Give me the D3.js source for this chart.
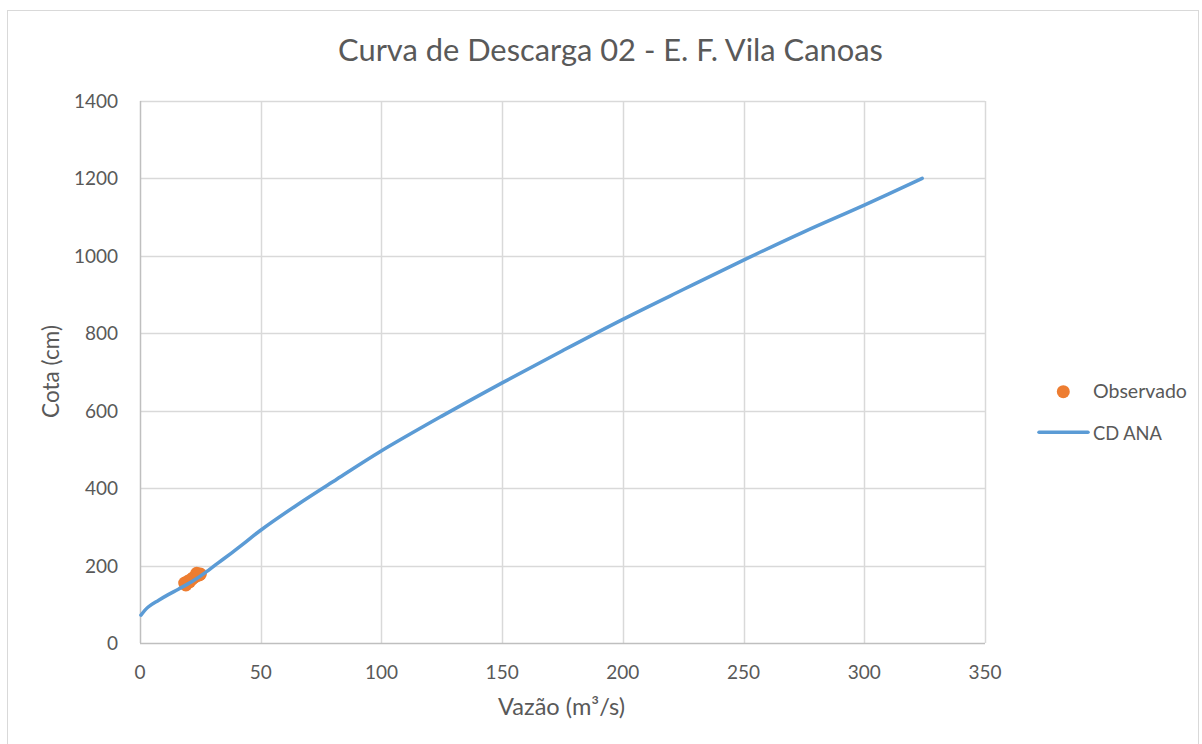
<!DOCTYPE html>
<html><head><meta charset="utf-8">
<script src="https://cdn.jsdelivr.net/npm/d3@7"></script>
<style>body{margin:0;background:#fff;}svg{display:block;font-family:Lato,"Open Sans",sans-serif;}</style>
</head><body>
<svg id="c" width="1202" height="744"></svg>
<script>
const title = "Curva de Descarga 02 - E. F. Vila Canoas";
const xLabel = "Vazão (m³/s)";
const yLabel = "Cota (cm)";
const xTicks = [0,50,100,150,200,250,300,350];
const yTicks = [0,200,400,600,800,1000,1200,1400];
// CD ANA curve (Q m3/s, H cm)
const curveQ = [0.4,3.4,7.6,11.7,15.9,21.4,26.9,32.4,38,42.8,49.7,64.9,81.5,99.4,125,150,175,200,225,250,275,300,324];
const curveH = [72,93,110,125,139,158,181,207,233,256,290,356,423,494,586,672,755,836,913,989,1062,1131,1200];
// Observed points
const obsQ = [18.5,19,20,20.5,21.5,22,23,24,25,23.5,24.5];
const obsH = [155,150,160,158,165,168,172,175,178,180,176];

const svg = d3.select("#c");
const x = d3.scaleLinear().domain([0,350]).range([140,985]);
const y = d3.scaleLinear().domain([0,1400]).range([643,101]);
const txt = "#595959", grid="#d9d9d9";

function fit(sel, w){ const l = sel.node().getComputedTextLength(); const s = parseFloat(sel.attr("font-size")); sel.attr("font-size", s*w/l); return sel; }

svg.append("rect").attr("x",7.5).attr("y",10.5).attr("width",1191).attr("height",800)
  .attr("fill","none").attr("stroke",grid);

// gridlines
svg.append("g").selectAll("line").data(yTicks.filter(d=>d>0)).join("line")
  .attr("x1",x(0)).attr("x2",x(350)).attr("y1",d=>Math.round(y(d))+0.5).attr("y2",d=>Math.round(y(d))+0.5)
  .attr("stroke",grid).attr("stroke-width",1.5);
svg.append("g").selectAll("line").data(xTicks.filter(d=>d>0)).join("line")
  .attr("y1",y(0)).attr("y2",y(1400)).attr("x1",d=>Math.round(x(d))+0.5).attr("x2",d=>Math.round(x(d))+0.5)
  .attr("stroke",grid).attr("stroke-width",1.5);
svg.append("line").attr("x1",x(0)).attr("x2",x(350)).attr("y1",Math.round(y(0))+0.5).attr("y2",Math.round(y(0))+0.5).attr("stroke","#bfbfbf").attr("stroke-width",1.5);
svg.append("line").attr("x1",Math.round(x(0))+0.5).attr("x2",Math.round(x(0))+0.5).attr("y1",y(0)).attr("y2",y(1400)).attr("stroke","#bfbfbf").attr("stroke-width",1.5);

// tick labels
svg.append("g").selectAll("text").data(yTicks).join("text")
  .attr("x",118).attr("y",d=>y(d)+7).attr("text-anchor","end").attr("fill",txt).attr("font-size",19).text(d=>d);
svg.append("g").selectAll("text").data(xTicks).join("text")
  .attr("x",d=>x(d)).attr("y",679).attr("text-anchor","middle").attr("fill",txt).attr("font-size",19).text(d=>d);

// titles
fit(svg.append("text").attr("x",610.5).attr("y",61).attr("text-anchor","middle").attr("fill",txt).attr("font-size",30).text(title),545);
fit(svg.append("text").attr("x",561.5).attr("y",715).attr("text-anchor","middle").attr("fill",txt).attr("font-size",20).text(xLabel),127);
fit(svg.append("text").attr("transform","translate(59,371.5) rotate(-90)").attr("text-anchor","middle").attr("fill",txt).attr("font-size",20).text(yLabel),93);

// observed
const obs = obsQ.map((q,i)=>[q,obsH[i]]);
svg.append("g").selectAll("circle").data(obs).join("circle")
  .attr("cx",d=>x(d[0])).attr("cy",d=>y(d[1])).attr("r",6.5).attr("fill","#ed7d31");

// curve
const cd = curveQ.map((q,i)=>[q,curveH[i]]);
svg.append("path").datum(cd).attr("fill","none").attr("stroke","#5b9bd5").attr("stroke-width",3.5)
  .attr("stroke-linecap","round").attr("stroke-linejoin","round")
  .attr("d",d3.line().x(d=>x(d[0])).y(d=>y(d[1])).curve(d3.curveCatmullRom.alpha(0.5)));

// legend
svg.append("circle").attr("cx",1063.3).attr("cy",391.7).attr("r",6.5).attr("fill","#ed7d31");
fit(svg.append("text").attr("x",1093).attr("y",398).attr("fill",txt).attr("font-size",19).text("Observado"),94);
svg.append("line").attr("x1",1039).attr("x2",1088).attr("y1",432.3).attr("y2",432.3).attr("stroke","#5b9bd5").attr("stroke-width",3.5).attr("stroke-linecap","round");
fit(svg.append("text").attr("x",1093).attr("y",440).attr("fill",txt).attr("font-size",19).text("CD ANA"),69);
</script>
</body></html>
